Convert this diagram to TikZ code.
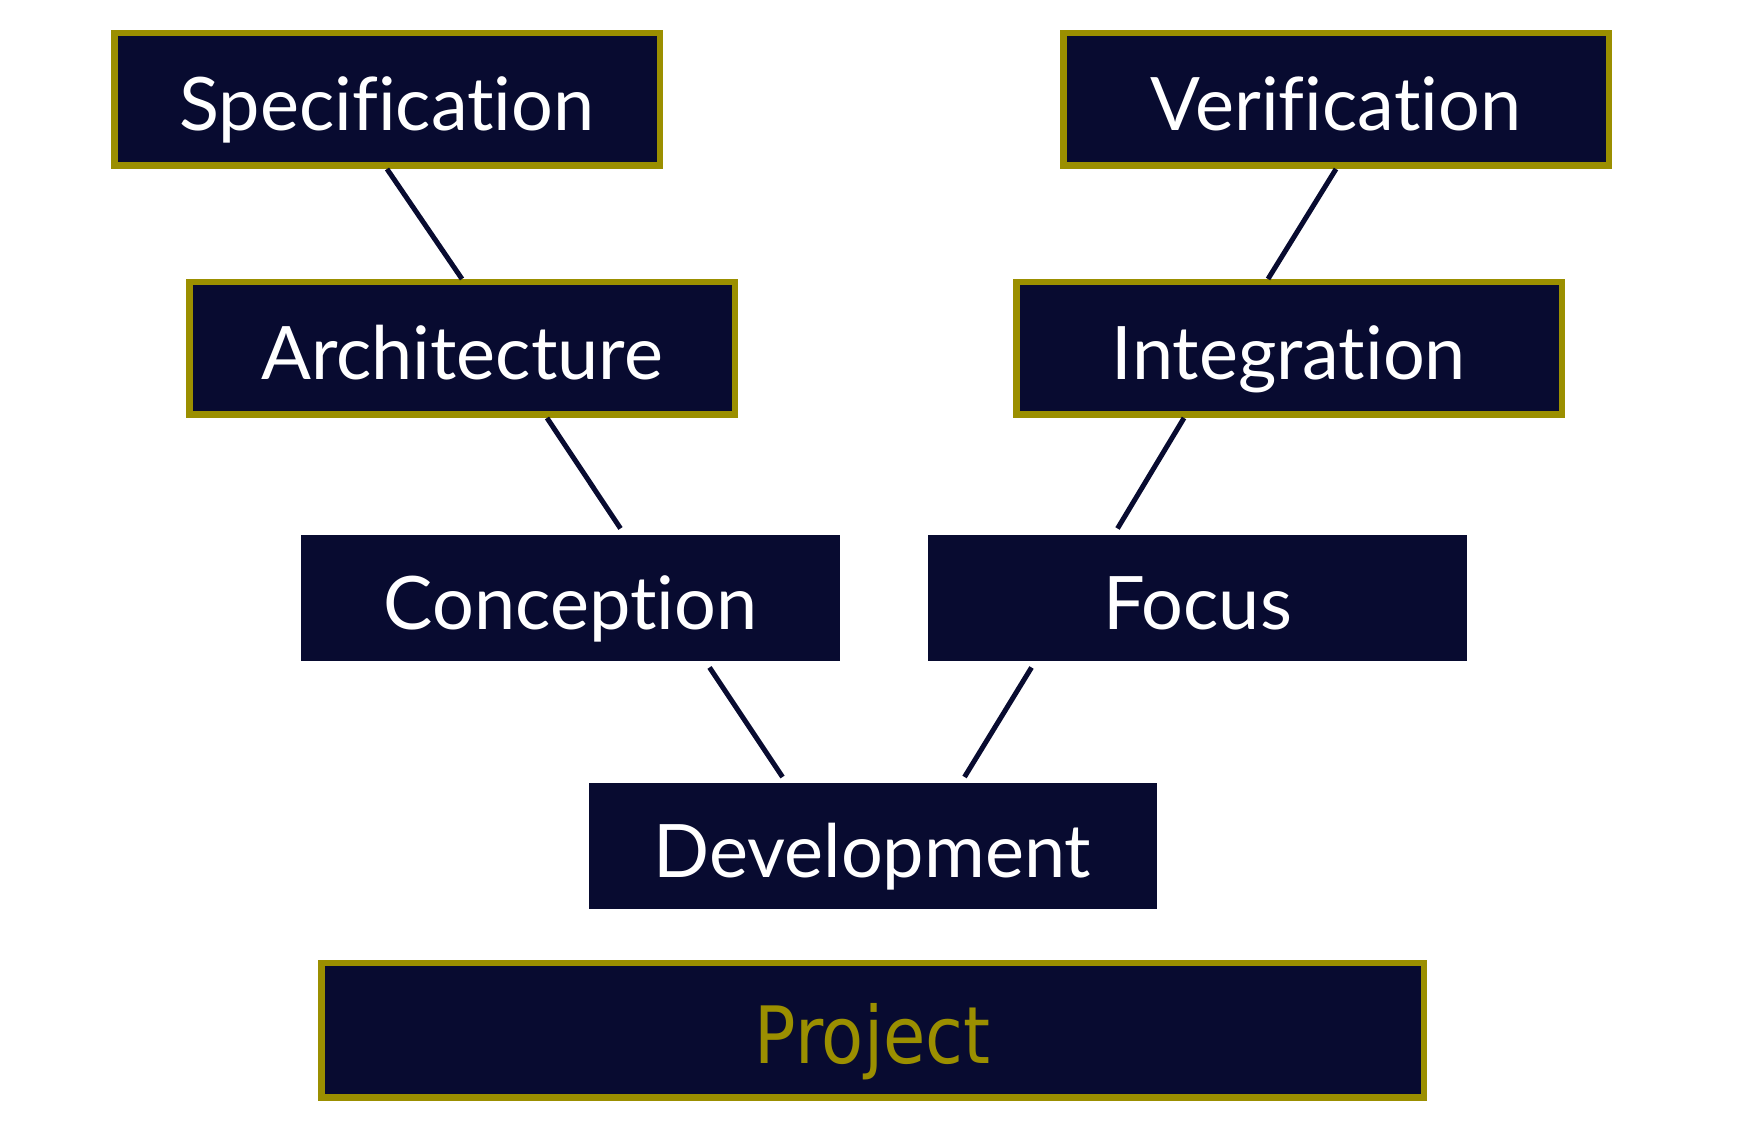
\documentclass[tikz,border=0pt]{standalone}
\usepackage{fontspec}
\setmainfont{Lato}[Ligatures={NoCommon,NoRequired,NoContextual}]
\newfontfamily\projfont[FakeStretch=0.87]{DejaVu Sans}
\usepackage{xcolor}
\usepackage{tikz}
\usetikzlibrary{positioning, calc}

\definecolor{navy}{RGB}{8,11,48}
\definecolor{olive}{RGB}{155,143,0}

\tikzset{
  phase/.style={rectangle, fill=navy, draw=olive, line width=0.065cm,
    minimum width=5.455cm, minimum height=1.325cm, inner sep=0pt,
    text height=0.63cm, text depth=0pt,
    text=white, font=\fontsize{21}{25}\selectfont},
  plain/.style={phase, draw=white},
  link/.style={navy, line width=0.05cm}
}

\begin{document}
\begin{tikzpicture}
  \useasboundingbox (0,0) rectangle (17.47,11.32);

  % Box centres
  \coordinate (S) at (3.87,10.325);
  \coordinate (V) at (13.36,10.325);
  \coordinate (A) at (4.62,7.835);
  \coordinate (I) at (12.89,7.835);
  \coordinate (C) at (5.705,5.34);
  \coordinate (F) at (11.975,5.34);
  \coordinate (D) at (8.725,2.855);
  \coordinate (P) at (8.725,1.015);

  % Left branch
  \node[phase] (spec) at (S) {Specification};
  \node[phase] (arch) at (A) {Architecture};
  \node[plain] (conc) at (C) {Conception};

  % Right branch
  \node[phase] (verif) at (V) {Verification};
  \node[phase] (integ) at (I) {Integration};
  \node[plain] (focus) at (F) {Focus};

  % Bottom
  \node[plain, minimum width=5.745cm] (dev) at (D) {Development};
  \node[phase, minimum width=11.025cm, minimum height=1.345cm, text height=0.67cm,
        text=olive, font=\projfont\fontsize{22.5}{26}\selectfont] (proj) at (P) {Project};

  % Connectors
  \draw[link] (spec.south) -- (arch.north);
  \draw[link] ($(arch.south)+(0.85,0)$) -- ($(conc.north)+(0.5,0)$);
  \draw[link] ($(conc.south)+(1.39,0)$) -- ($(dev.north)+(-0.9,0)$);
  \draw[link] (verif.south) -- ($(integ.north)+(-0.21,0)$);
  \draw[link] ($(integ.south)+(-1.05,0)$) -- ($(focus.north)+(-0.8,0)$);
  \draw[link] ($(focus.south)+(-1.66,0)$) -- ($(dev.north)+(0.92,0)$);
\end{tikzpicture}
\end{document}
